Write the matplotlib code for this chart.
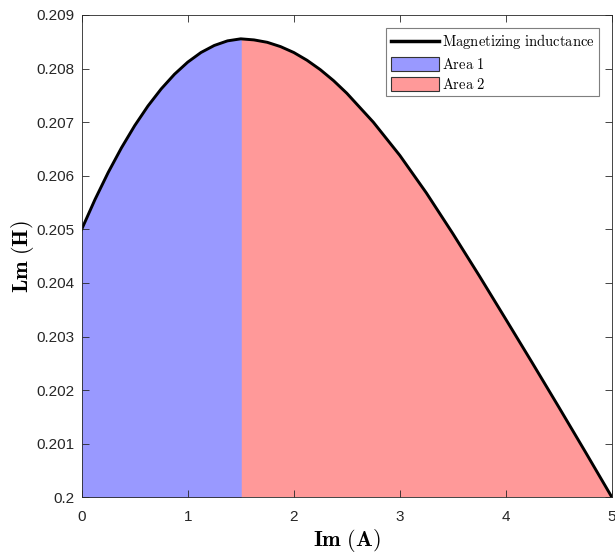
import numpy as np
import matplotlib.pyplot as plt
from matplotlib.patches import Patch
from matplotlib.lines import Line2D

# magnetizing current (A) and inductance (H)
im = [0.0, 0.125, 0.25, 0.375, 0.5, 0.625, 0.75, 0.875, 1.0, 1.125,
      1.25, 1.375, 1.5, 1.625, 1.75, 1.875, 2.0, 2.125, 2.25, 2.375,
      2.5, 2.75, 3.0, 3.25, 3.5, 3.75, 4.0, 4.25, 4.5, 4.75, 5.0]
lm = [0.205000, 0.205554, 0.206061, 0.206521, 0.206935, 0.207302,
      0.207621, 0.207894, 0.208120, 0.208300, 0.208431, 0.208517,
      0.208555, 0.208535, 0.208490, 0.208410, 0.208300, 0.208155,
      0.207980, 0.207775, 0.207540, 0.207000, 0.206380, 0.205680,
      0.204920, 0.204130, 0.203320, 0.202505, 0.201680, 0.200845,
      0.200000]
split = 1.5
area_labels = ['Area 1', 'Area 2']
area_colors = ['#9999ff', '#ff9999']

plt.rcParams['mathtext.fontset'] = 'cm'
plt.rcParams['font.family'] = ['Liberation Sans', 'DejaVu Sans']

x = np.array(im)
y = np.array(lm)
k = int(np.where(x == split)[0][0])

fig = plt.figure(figsize=(6.15, 5.55), dpi=100)
ax = fig.add_axes([0.1328, 0.104, 0.8622, 0.869])

# red first, blue on top with a thin edge so no seam shows at the split
ax.fill_between(x[k:], 0.2, y[k:], facecolor=area_colors[1], lw=0)
ax.fill_between(x[:k + 1], 0.2, y[:k + 1], facecolor=area_colors[0],
                edgecolor=area_colors[0], lw=0.6)
ax.plot(x, y, color='black', lw=2.1, solid_joinstyle='round')

ax.set_xlim(0, 5)
ax.set_ylim(0.2, 0.209)
ax.set_xticks([0, 1, 2, 3, 4, 5])
ax.set_yticks(np.arange(0.2, 0.2091, 0.001))
ax.set_yticklabels(['0.2', '0.201', '0.202', '0.203', '0.204', '0.205',
                    '0.206', '0.207', '0.208', '0.209'])
ax.tick_params(direction='in', length=5, width=0.6, top=True, right=True,
               labelsize=11, colors='#262626')
ax.tick_params(axis='x', pad=9)
ax.tick_params(axis='y', pad=5.5)
for s in ax.spines.values():
    s.set_color('#262626')
    s.set_linewidth(0.6)

ax.set_xlabel(r'$\mathbf{Im\ (A)}$', fontsize=16, labelpad=2)
ax.set_ylabel(r'$\mathbf{Lm\ (H)}$', fontsize=16, labelpad=0)

handles = [Line2D([0], [0], color='black', lw=2.5),
           Patch(facecolor=area_colors[0], edgecolor='#333333', lw=0.8),
           Patch(facecolor=area_colors[1], edgecolor='#333333', lw=0.8)]
labels = [r'$\mathrm{Magnetizing\ inductance}$',
          r'$\mathrm{' + area_labels[0].replace(' ', r'\ ') + '}$',
          r'$\mathrm{' + area_labels[1].replace(' ', r'\ ') + '}$']
leg = ax.legend(handles, labels, loc='upper right', fontsize=10.5,
                fancybox=False, framealpha=1, edgecolor='#7f7f7f',
                borderpad=0.3, labelspacing=0.35, handlelength=3.3,
                handleheight=1.1, handletextpad=0.2, borderaxespad=0.9)
leg.get_frame().set_linewidth(0.8)

fig.savefig('out.png', dpi=100)
